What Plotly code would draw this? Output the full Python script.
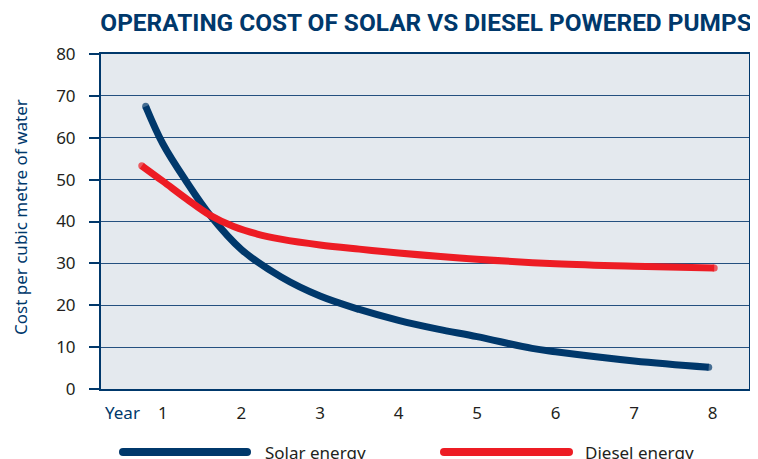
import plotly.graph_objects as go

# Data
years = [1, 2, 3, 4, 5, 6, 7, 8]
solar_x = [0.78, 1.0, 1.3, 1.6, 2.0, 2.5, 3.0, 3.5, 4.0, 4.5, 5.0, 5.7, 6.0, 7.0, 7.95]
solar_y = [67.5, 58.5, 49.5, 41.5, 33.3, 26.8, 22.2, 19.0, 16.4, 14.3, 12.5, 9.7, 8.9, 6.7, 5.2]
diesel_x = [0.73, 1.0, 1.3, 1.6, 1.9, 2.2, 2.5, 3.0, 3.5, 4.0, 5.0, 6.0, 7.0, 8.02]
diesel_y = [53.3, 49.6, 45.4, 41.5, 38.8, 37.0, 35.8, 34.4, 33.4, 32.5, 31.0, 29.9, 29.3, 28.9]
y_ticks = [0, 10, 20, 30, 40, 50, 60, 70, 80]
series_names = ["Solar energy", "Diesel energy"]

NAVY = "#00386b"
RED = "#ed1c24"
GRID = "#24507f"
LW = 7

# page offset of the plotly div inside the browser (body margin)
OFF = 8
W, H = 758 - OFF, 459 - OFF
L, R, T, B = 101 - OFF, 9, 54 - OFF, 70
PW, PH = W - L - R, H - T - B


def caps(n, size):
    return [size] + [0] * (n - 2) + [size]


def px_x(page_x):
    return (page_x - OFF - L) / PW


def px_y(page_y):
    return (H - B - (page_y - OFF)) / PH


fig = go.Figure()
fig.add_trace(go.Scatter(
    x=solar_x, y=solar_y, mode="lines+markers", name=series_names[0],
    line=dict(color=NAVY, width=LW, shape="spline", smoothing=1.0),
    marker=dict(color=NAVY, size=caps(len(solar_x), LW), line=dict(width=0)),
    showlegend=False, hoverinfo="skip"))
fig.add_trace(go.Scatter(
    x=diesel_x, y=diesel_y, mode="lines+markers", name=series_names[1],
    line=dict(color=RED, width=LW, shape="spline", smoothing=1.0),
    marker=dict(color=RED, size=caps(len(diesel_x), LW), line=dict(width=0)),
    showlegend=False, hoverinfo="skip"))

tickfont = dict(family="Noto Sans, sans-serif", size=17, color="#231f20")

fig.update_layout(
    width=W, height=H,
    margin=dict(l=L, r=R, t=T, b=B, autoexpand=False),
    paper_bgcolor="white",
    plot_bgcolor="#e4e9ee",
    title=dict(
        text="<b>OPERATING COST OF SOLAR VS DIESEL POWERED PUMPS</b>",
        font=dict(family="Liberation Sans Narrow, Roboto, sans-serif", size=24.4, color=NAVY),
        x=(426 - OFF) / W, xanchor="center", y=1 - (22.5 - OFF) / H, yanchor="middle"),
    xaxis=dict(
        range=[0.211, 8.463], tickvals=years, ticktext=[str(v) for v in years],
        showgrid=False, zeroline=False, showline=True, linecolor=NAVY, linewidth=2,
        mirror=True, ticks="", tickfont=tickfont, ticklabelstandoff=8),
    yaxis=dict(
        range=[0, 80], tickvals=y_ticks, showgrid=True, gridcolor=GRID, gridwidth=1.3,
        zeroline=False, showline=True, linecolor=NAVY, linewidth=2, mirror=True,
        ticks="outside", ticklen=10, tickwidth=1.5, tickcolor=NAVY,
        tickfont=tickfont, ticklabelstandoff=10),
)

# Axis labels
fig.add_annotation(text="Cost per cubic metre of water", xref="paper", yref="paper",
                   x=px_x(20), y=px_y(217), xanchor="center", yanchor="middle",
                   textangle=-90, showarrow=False,
                   font=dict(family="Noto Sans, sans-serif", size=17, color=NAVY))
fig.add_annotation(text="Year", xref="paper", yref="paper", x=px_x(122), y=px_y(412),
                   xanchor="center", yanchor="middle", showarrow=False,
                   font=dict(family="Noto Sans, sans-serif", size=17, color=NAVY))

# Custom legend (long line samples with rounded ends)
leg_y = px_y(452)
for (x0, x1, tx, color, name) in [(123, 247, 263, NAVY, series_names[0]),
                                   (444, 569, 583, RED, series_names[1])]:
    p0, p1 = px_x(x0), px_x(x1)
    fig.add_shape(type="line", xref="paper", yref="paper", x0=p0, x1=p1, y0=leg_y, y1=leg_y,
                  line=dict(color=color, width=8))
    for px in (p0, p1):
        fig.add_shape(type="circle", xref="paper", yref="paper", xsizemode="pixel", ysizemode="pixel",
                      xanchor=px, yanchor=leg_y, x0=-4, x1=4, y0=-4, y1=4,
                      fillcolor=color, line=dict(width=0))
    fig.add_annotation(text=name, xref="paper", yref="paper", x=px_x(tx), y=leg_y,
                       xanchor="left", yanchor="middle", showarrow=False,
                       font=dict(family="Noto Sans, sans-serif", size=17, color="#231f20"))

fig.write_html("out.html")
